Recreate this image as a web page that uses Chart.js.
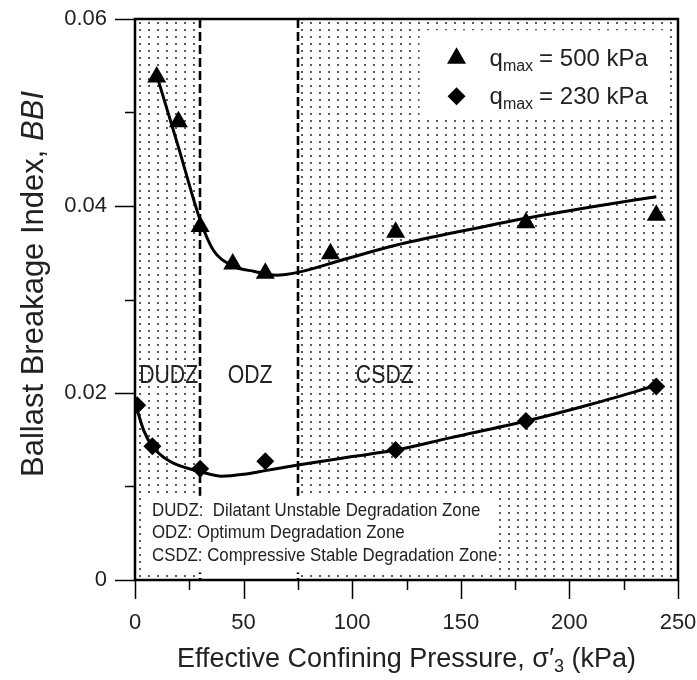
<!DOCTYPE html>
<html><head><meta charset="utf-8">
<script src="https://cdn.jsdelivr.net/npm/chart.js@4/dist/chart.umd.min.js"></script>
<style>html,body{margin:0;padding:0;background:#fff}#wrap{width:697px;height:680px;position:relative}</style>
</head><body><div id="wrap"><canvas id="c" width="697" height="680"></canvas></div>
<script>
// ---- data ----
const pressure500 = [10, 20, 30, 45, 60, 90, 120, 180, 240];
const bbi500      = [0.0538, 0.0490, 0.0378, 0.0338, 0.0328, 0.0349, 0.0372, 0.0382, 0.0390];
const pressure230 = [1, 8, 30, 60, 120, 180, 240];
const bbi230      = [0.0187, 0.0143, 0.0119, 0.0127, 0.0139, 0.0170, 0.0207];
const trendX500 = [10, 20, 30, 36, 45, 55, 65, 75, 95, 120, 150, 180, 210, 240];
const trendY500 = [0.054, 0.0463, 0.0385, 0.0353, 0.0336, 0.0330, 0.0326, 0.0329, 0.0342, 0.0358, 0.0373, 0.0387, 0.0399, 0.0410];
const trendX230 = [1, 4, 8, 16, 30, 40, 50, 60, 75, 100, 120, 145, 180, 210, 240];
const trendY230 = [0.0182, 0.0160, 0.0143, 0.0127, 0.0116, 0.0111, 0.0113, 0.0117, 0.0123, 0.0132, 0.0139, 0.0152, 0.0170, 0.0188, 0.0208];
const xTicks = [0, 50, 100, 150, 200, 250];
const yTicks = [0, 0.02, 0.04, 0.06];
const xMinorTicks = [25, 75, 125, 175, 225];
const yMinorTicks = [0.01, 0.03, 0.05];
const zoneBounds = [30, 75];
const zoneNames = ['DUDZ', 'ODZ', 'CSDZ'];
const zoneNameX = [15.5, 53, 115];
const legendLabels = ['= 500 kPa', '= 230 kPa'];
const noteLines = ['DUDZ:  Dilatant Unstable Degradation Zone', 'ODZ: Optimum Degradation Zone', 'CSDZ: Compressive Stable Degradation Zone'];
const xTitle = ['Effective Confining Pressure, \u03c3\u2032', '3', ' (kPa)'];
const yTitle = ['Ballast Breakage Index, ', 'BBI'];

const FONT = '"Liberation Sans", Arial, Helvetica, sans-serif';
Chart.defaults.font.family = FONT;

function makePattern(ctx) {
  const c = document.createElement('canvas');
  c.width = 9; c.height = 7;
  const g = c.getContext('2d');
  g.fillStyle = '#fff'; g.fillRect(0, 0, 9, 7);
  g.fillStyle = '#5a5a5a'; g.fillRect(4, 3, 2, 2);
  return ctx.createPattern(c, 'repeat');
}

function condText(ctx, txt, x, y, sx) {
  ctx.save(); ctx.translate(x, y); ctx.scale(sx, 1); ctx.fillText(txt, 0, 0); ctx.restore();
  return ctx.measureText(txt).width * sx;
}

const decor = {
  id: 'decor',
  beforeDatasetsDraw(chart) {
    const {ctx, chartArea: a, scales: {x, y}} = chart;
    ctx.save();
    ctx.fillStyle = makePattern(ctx);
    const x30 = x.getPixelForValue(zoneBounds[0]), x75 = x.getPixelForValue(zoneBounds[1]);
    ctx.translate(a.left, a.top);
    ctx.fillRect(0, 0, x30 - a.left, a.bottom - a.top);
    ctx.fillRect(x75 - a.left, 0, a.right - x75, a.bottom - a.top);
    ctx.setTransform(1, 0, 0, 1, 0, 0);
    // dashed zone boundaries
    ctx.strokeStyle = '#000'; ctx.lineWidth = 2.6; ctx.setLineDash([9, 4]);
    zoneBounds.forEach(v => {
      const px = Math.round(x.getPixelForValue(v));
      ctx.beginPath(); ctx.moveTo(px, a.top); ctx.lineTo(px, a.bottom); ctx.stroke();
    });
    ctx.setLineDash([]);
    // white boxes
    ctx.fillStyle = '#fff';
    const lx0 = x.getPixelForValue(131), lx1 = x.getPixelForValue(246);
    const ly0 = y.getPixelForValue(0.0588), ly1 = y.getPixelForValue(0.0494);
    ctx.fillRect(lx0, ly0, lx1 - lx0, ly1 - ly0);
    const nx0 = x.getPixelForValue(4.6), nx1 = x.getPixelForValue(165);
    const ny0 = y.getPixelForValue(0.0090), ny1 = y.getPixelForValue(0.0008);
    ctx.fillRect(nx0, ny0, nx1 - nx0, ny1 - ny0);
    // zone names
    ctx.fillStyle = '#222'; ctx.font = '25px ' + FONT; ctx.textBaseline = 'alphabetic';
    zoneNames.forEach((t, i) => {
      const w = ctx.measureText(t).width * 0.85;
      condText(ctx, t, x.getPixelForValue(zoneNameX[i]) - w / 2, y.getPixelForValue(0.0211), 0.85);
    });
    // notes
    ctx.font = '18.5px ' + FONT;
    noteLines.forEach((t, i) => condText(ctx, t, nx0 + 7, ny0 + 20 + i * 22.5, 0.91));
    // legend
    const mx = lx0 + 37;
    const rows = [ly0 + 28, ly0 + 66];
    ctx.fillStyle = '#000';
    let r = 11, cy = rows[0];
    ctx.beginPath();
    ctx.moveTo(mx, cy - r); ctx.lineTo(mx + r * 0.866, cy + r / 2); ctx.lineTo(mx - r * 0.866, cy + r / 2); ctx.closePath(); ctx.fill();
    r = 9; cy = rows[1];
    ctx.beginPath();
    ctx.moveTo(mx, cy - r); ctx.lineTo(mx + r, cy); ctx.lineTo(mx, cy + r); ctx.lineTo(mx - r, cy); ctx.closePath(); ctx.fill();
    ctx.fillStyle = '#222';
    legendLabels.forEach((t, i) => {
      const base = rows[i] + 8;
      let tx = mx + 33;
      ctx.font = '24px ' + FONT;
      ctx.fillText('q', tx, base); tx += ctx.measureText('q').width;
      ctx.font = '16px ' + FONT;
      ctx.fillText('max', tx, base + 5); tx += ctx.measureText('max').width + 6;
      ctx.font = '24px ' + FONT;
      ctx.fillText(t, tx, base);
    });
    ctx.restore();
  },
  afterDraw(chart) {
    const {ctx, chartArea: a, scales: {x, y}} = chart;
    ctx.save();
    ctx.strokeStyle = '#000'; ctx.lineWidth = 2.5;
    ctx.strokeRect(a.left, a.top, a.right - a.left, a.bottom - a.top);
    ctx.lineWidth = 1.5;
    ctx.beginPath();
    xTicks.forEach(v => { const p = Math.round(x.getPixelForValue(v)) + 0.5; ctx.moveTo(p, a.bottom); ctx.lineTo(p, a.bottom + 19); });
    xMinorTicks.forEach(v => { const p = Math.round(x.getPixelForValue(v)) + 0.5; ctx.moveTo(p, a.bottom); ctx.lineTo(p, a.bottom + 10); });
    yTicks.forEach(v => { const p = Math.round(y.getPixelForValue(v)) + 0.5; ctx.moveTo(a.left, p); ctx.lineTo(a.left - 20, p); });
    yMinorTicks.forEach(v => { const p = Math.round(y.getPixelForValue(v)) + 0.5; ctx.moveTo(a.left, p); ctx.lineTo(a.left - 10, p); });
    ctx.stroke();
    ctx.fillStyle = '#222'; ctx.textBaseline = 'alphabetic';
    const f1 = '27px ' + FONT, f2 = '18px ' + FONT;
    ctx.font = f1; const w1 = ctx.measureText(xTitle[0]).width, w3 = ctx.measureText(xTitle[2]).width;
    ctx.font = f2; const w2 = ctx.measureText(xTitle[1]).width;
    let tx = (a.left + a.right) / 2 - (w1 + w2 + w3) / 2, base = 667;
    ctx.font = f1; ctx.fillText(xTitle[0], tx, base); tx += w1;
    ctx.font = f2; ctx.fillText(xTitle[1], tx, base + 5); tx += w2;
    ctx.font = f1; ctx.fillText(xTitle[2], tx, base);
    ctx.save();
    ctx.translate(43, 284); ctx.rotate(-Math.PI / 2);
    ctx.font = '31px ' + FONT; const yw1 = ctx.measureText(yTitle[0]).width;
    ctx.font = 'italic 31px ' + FONT; const yw2 = ctx.measureText(yTitle[1]).width;
    let ty = -(yw1 + yw2) / 2;
    ctx.font = '31px ' + FONT; ctx.fillText(yTitle[0], ty, 0);
    ctx.font = 'italic 31px ' + FONT; ctx.fillText(yTitle[1], ty + yw1, 0);
    ctx.restore();
    ctx.restore();
  }
};

const pts = (xs, ys) => xs.map((v, i) => ({x: v, y: ys[i]}));

new Chart(document.getElementById('c'), {
  type: 'scatter',
  data: {
    datasets: [
      {type: 'line', data: pts(trendX500, trendY500), borderColor: '#000', borderWidth: 3, pointRadius: 0, cubicInterpolationMode: 'monotone', fill: false},
      {type: 'line', data: pts(trendX230, trendY230), borderColor: '#000', borderWidth: 3, pointRadius: 0, cubicInterpolationMode: 'monotone', fill: false},
      {label: 'qmax = 500 kPa', data: pts(pressure500, bbi500), pointStyle: 'triangle', pointRadius: 11, backgroundColor: '#000', borderColor: '#000', borderWidth: 0},
      {label: 'qmax = 230 kPa', data: pts(pressure230, bbi230), pointStyle: 'rectRot', pointRadius: 9, backgroundColor: '#000', borderColor: '#000', borderWidth: 0}
    ]
  },
  options: {
    responsive: false,
    animation: false,
    devicePixelRatio: 1,
    layout: {padding: {top: 19, right: 19, left: 0, bottom: 0}},
    plugins: {legend: {display: false}, tooltip: {enabled: false}},
    scales: {
      x: {
        type: 'linear', min: 0, max: 250,
        afterBuildTicks: s => { s.ticks = xTicks.map(v => ({value: v})); },
        afterFit: s => { s.height = 100; s.paddingLeft = 0; s.paddingRight = 0; },
        grid: {display: false, drawTicks: false}, border: {display: false},
        ticks: {color: '#222', font: {size: 22}, padding: 30, maxRotation: 0}
      },
      y: {
        type: 'linear', min: 0, max: 0.06,
        afterBuildTicks: s => { s.ticks = yTicks.map(v => ({value: v})); },
        afterFit: s => { s.width = 135; s.paddingTop = 0; s.paddingBottom = 0; },
        grid: {display: false, drawTicks: false}, border: {display: false},
        ticks: {color: '#222', font: {size: 22}, padding: 28, callback: v => v === 0 ? '0' : v.toFixed(2)}
      }
    }
  },
  plugins: [decor]
});
</script></body></html>
